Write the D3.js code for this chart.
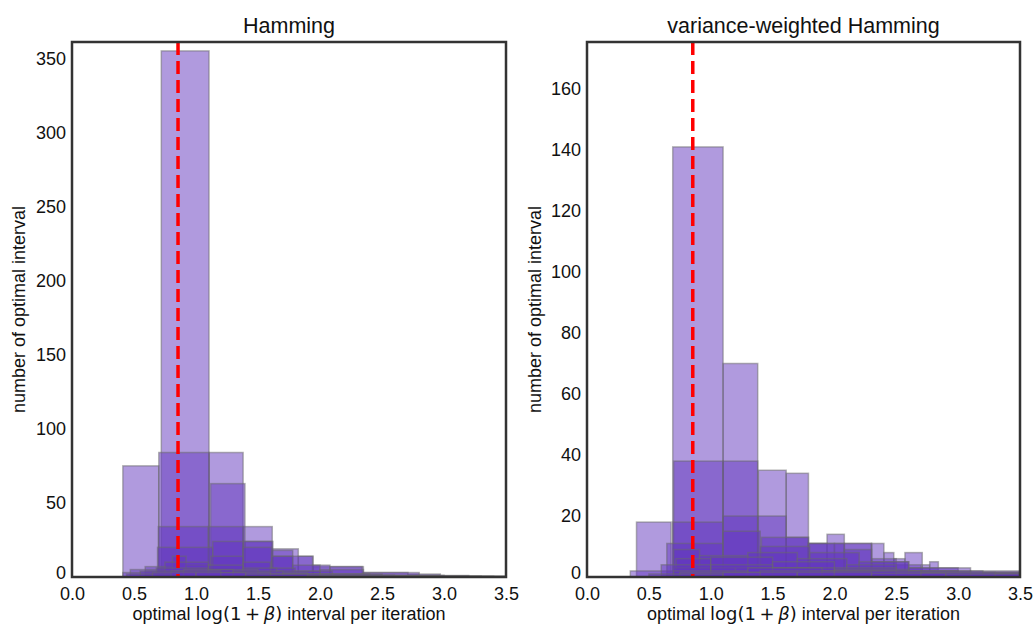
<!DOCTYPE html>
<html>
<head>
<meta charset="utf-8">
<script src="https://cdn.jsdelivr.net/npm/d3@7"></script>
<style>
  html, body { margin: 0; padding: 0; background: #fff; }
  svg { display: block; }
  text { font-family: "Liberation Sans", Arial, sans-serif; fill: #111; }
</style>
</head>
<body>
<svg id="chart" width="1035" height="624"></svg>
<script>
// ---------- data (bins: [x0, x1, count]) ----------
const xTicks = [0.0, 0.5, 1.0, 1.5, 2.0, 2.5, 3.0, 3.5];
const hamYTicks = [0, 50, 100, 150, 200, 250, 300, 350];
const vwYTicks = [0, 20, 40, 60, 80, 100, 120, 140, 160];
const titles = ["Hamming", "variance-weighted Hamming"];
const markerValue = 0.855;

const hamA = [[0.41,0.70,75]];
const hamB = [[0.72,1.105,355],[1.105,1.38,84],[1.38,1.615,34],[1.615,1.825,19],[1.825,1.945,14],[1.945,2.35,7],[2.35,2.71,3],[2.71,2.97,2]];
const hamC = [[0.70,1.105,84],[1.118,1.395,63],[1.395,1.61,24],[1.61,1.78,18]];
const hamD = [[0.696,1.10,34],[1.10,1.38,34],[1.38,1.62,24],[1.62,1.94,14],[1.94,2.08,8],[2.08,2.34,7]];
const hamE = [[0.69,1.135,20],[1.135,1.38,24],[1.38,1.61,20],[1.61,1.78,14],[1.78,2.0,8],[2.0,2.35,5],[2.35,2.8,3]];
const hamF = [[0.59,0.81,7],[0.81,0.92,14],[0.92,1.12,8],[1.12,1.38,14],[1.38,1.6,10],[1.6,1.8,6],[1.8,2.1,4],[2.1,2.5,2],[2.5,3.0,1]];
const hamG = [[0.47,0.75,5],[0.75,1.1,10],[1.1,1.38,8],[1.38,1.65,6],[1.65,2.0,4],[2.0,2.4,2],[2.4,3.0,1],[3.0,3.5,0.5]];
const hamH = [[0.41,0.68,3],[0.68,1.1,6],[1.1,1.5,5],[1.5,1.9,3],[1.9,2.4,2],[2.4,3.2,1]];
const hamI = [[0.55,0.9,4],[0.9,1.3,5],[1.3,1.7,4],[1.7,2.1,2],[2.1,2.6,1],[2.6,3.5,0.6]];
const hamJ = [[0.44,0.8,2],[0.8,1.2,4],[1.2,1.6,3],[1.6,2.0,2],[2.0,2.6,1.2],[2.6,3.3,0.6]];
const hamK = [[0.65,1.0,3],[1.0,1.4,3],[1.4,1.9,2],[1.9,2.5,1],[2.5,3.4,0.5]];

const vwA = [[0.40,0.68,18]];
const vwB = [[0.693,1.10,141],[1.10,1.38,70],[1.385,1.61,35],[1.61,1.79,34],[1.79,1.94,11],[1.94,2.08,14],[2.08,2.30,11],[2.30,2.40,11],[2.40,2.48,8],[2.48,2.57,6],[2.57,2.71,8],[2.71,2.77,4],[2.77,2.84,5]];
const vwC = [[0.70,1.10,38],[1.10,1.38,38],[1.38,1.61,20],[1.61,1.79,13],[1.79,2.0,11],[2.0,2.3,11],[2.3,2.5,6],[2.5,2.7,4],[2.7,3.0,2]];
const vwD = [[0.693,1.10,18],[1.10,1.38,20],[1.41,1.79,13],[1.79,2.08,11],[2.08,2.3,9],[2.3,2.6,5],[2.6,3.0,3],[3.0,3.6,1.5]];
const vwE = [[0.645,1.10,11],[1.10,1.4,15],[1.4,1.8,10],[1.8,2.2,8],[2.2,2.6,5],[2.6,3.1,3],[3.1,3.6,2]];
const vwF = [[0.70,0.91,9],[0.91,1.3,7],[1.3,1.7,8],[1.7,2.1,6],[2.1,2.5,4],[2.5,3.0,2],[3.0,3.6,1.5]];
const vwG = [[0.72,1.0,6],[1.0,1.5,6.5],[1.5,2.0,5],[2.0,2.5,3],[2.5,3.1,2],[3.1,3.6,1]];
const vwH = [[0.35,0.7,2],[0.7,1.2,3],[1.2,1.8,3],[1.8,2.4,2],[2.4,3.0,1.5],[3.0,3.6,1]];
const vwI = [[0.6,1.0,4],[1.0,1.5,4],[1.5,2.0,3],[2.0,2.6,2.5],[2.6,3.2,2],[3.2,3.6,1.5]];
const vwJ = [[0.7,1.3,2],[1.3,1.9,3],[1.9,2.5,2],[2.5,3.1,1.5],[3.1,3.6,1]];
const vwK = [[0.75,1.4,1.5],[1.4,2.0,2],[2.0,2.7,2],[2.7,3.3,1.5],[3.3,3.6,1.2]];
const vwL = [[0.5,1.1,1],[1.1,1.7,1.5],[1.7,2.3,1.5],[2.3,2.9,1.2],[2.9,3.6,1]];

const hamSeries = [hamA, hamB, hamC, hamD, hamE, hamF, hamG, hamH, hamI, hamJ, hamK];
const vwSeries = [vwA, vwB, vwC, vwD, vwE, vwF, vwG, vwH, vwI, vwJ, vwK, vwL];

// ---------- layout ----------
const svg = d3.select("#chart");
const panels = [
  { left: 72, right: 506, top: 42, bottom: 577, yMax: 361, yTicks: hamYTicks, series: hamSeries, title: titles[0], yLabelX: 19 },
  { left: 587, right: 1020, top: 42, bottom: 577, yMax: 175.4, yTicks: vwYTicks, series: vwSeries, title: titles[1], yLabelX: 535 }
];

panels.forEach((p, i) => {
  const x = d3.scaleLinear().domain([0, 3.5]).range([p.left, p.right]);
  const y = d3.scaleLinear().domain([0, p.yMax]).range([p.bottom, p.top]);

  const clipId = "clip" + i;
  svg.append("clipPath").attr("id", clipId)
    .append("rect").attr("x", p.left).attr("y", p.top)
    .attr("width", p.right - p.left).attr("height", p.bottom - p.top);

  const g = svg.append("g").attr("clip-path", `url(#${clipId})`);
  p.series.forEach(s => {
    g.append("g").selectAll("rect").data(s).join("rect")
      .attr("x", d => x(d[0]))
      .attr("y", d => y(d[2]))
      .attr("width", d => x(d[1]) - x(d[0]))
      .attr("height", d => y(0) - y(d[2]))
      .attr("fill", "#6135bd")
      .attr("fill-opacity", 0.5)
      .attr("stroke", "#6a6a6a")
      .attr("stroke-opacity", 0.5)
      .attr("stroke-width", 1.5);
  });

  // red dashed marker
  svg.append("line")
    .attr("x1", x(markerValue)).attr("x2", x(markerValue))
    .attr("y1", p.top).attr("y2", p.bottom)
    .attr("stroke", "#ff0000").attr("stroke-width", 3.5)
    .attr("stroke-dasharray", "13,6");

  // axes (labels only, no tick marks)
  const xAxis = d3.axisBottom(x).tickValues(xTicks).tickFormat(d3.format(".1f")).tickSize(0).tickPadding(10);
  const gx = svg.append("g").attr("transform", `translate(0,${p.bottom})`).call(xAxis);
  gx.select(".domain").remove();
  gx.selectAll("text").attr("font-size", 18).attr("font-family", "Liberation Sans, Arial, sans-serif").attr("fill", "#111");

  const yAxis = d3.axisLeft(y).tickValues(p.yTicks).tickSize(0).tickPadding(6);
  const gy = svg.append("g").attr("transform", `translate(${p.left},0)`).call(yAxis);
  gy.select(".domain").remove();
  gy.selectAll("text").attr("font-size", 18).attr("font-family", "Liberation Sans, Arial, sans-serif").attr("fill", "#111");
  // keep the "0" label clear of the "0.0" label below it
  gy.selectAll(".tick").filter(d => d === 0).select("text").attr("dy", "0.1em");

  // frame
  svg.append("rect")
    .attr("x", p.left).attr("y", p.top)
    .attr("width", p.right - p.left).attr("height", p.bottom - p.top)
    .attr("fill", "none").attr("stroke", "#333").attr("stroke-width", 2.5);

  // title
  svg.append("text")
    .attr("x", (p.left + p.right) / 2).attr("y", 33)
    .attr("text-anchor", "middle").attr("font-size", 21.5)
    .text(p.title);

  // x label (math part in DejaVu Sans, like matplotlib mathtext)
  const xl = svg.append("text")
    .attr("x", (p.left + p.right) / 2).attr("y", 620)
    .attr("text-anchor", "middle").attr("font-size", 18);
  xl.append("tspan").text("optimal ");
  xl.append("tspan").attr("font-family", "DejaVu Sans").text("log(1\u2009+\u2009");
  xl.append("tspan").attr("font-family", "DejaVu Sans").attr("font-style", "italic").text("β");
  xl.append("tspan").attr("font-family", "DejaVu Sans").text(")");
  xl.append("tspan").text(" interval per iteration");

  // y label
  svg.append("text")
    .attr("transform", `translate(${p.yLabelX + 6},${(p.top + p.bottom) / 2}) rotate(-90)`)
    .attr("text-anchor", "middle").attr("font-size", 18)
    .text("number of optimal interval");
});
</script>
</body>
</html>
